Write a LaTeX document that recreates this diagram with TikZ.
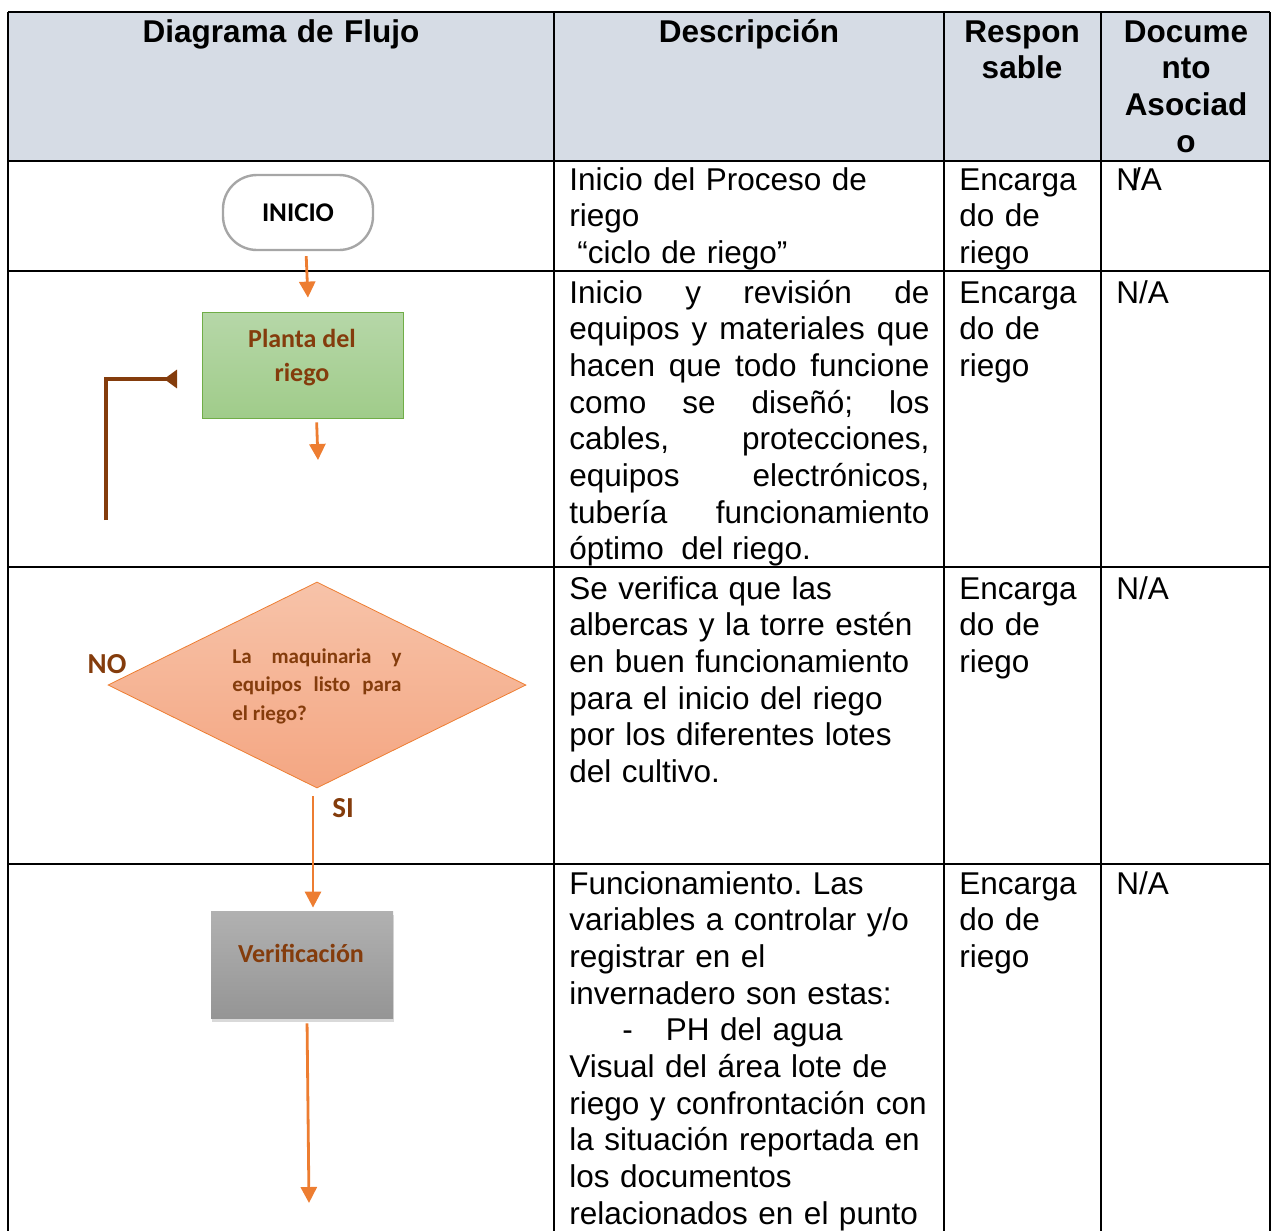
\documentclass[tikz,border=0pt]{standalone}
\usepackage{fontspec}
\setmainfont{Liberation Sans}
\newfontfamily\calibri{Carlito}
\usetikzlibrary{arrows.meta}
\usetikzlibrary{shapes.geometric}
\usetikzlibrary{shadows}
\frenchspacing
\definecolor{encabezado}{HTML}{D6DCE5}
\definecolor{cafe}{HTML}{843C0C}
\definecolor{naranja}{HTML}{ED7D31}
\definecolor{verde}{HTML}{70AD47}
\tikzset{celda/.style = {anchor = base west, inner sep = 0, text width = 180pt, font = \fontsize{15.75}{18.35}\selectfont, align = left}}
\tikzset{titulo/.style = {anchor = base, inner sep = 0, text width = 80pt, font = \fontsize{15.75}{18.35}\selectfont\bfseries, align = center}}
\tikzset{flecha/.style = {draw = naranja, line width = 1.4pt, -{Triangle[width = 8pt, length = 8pt]}}}
\tikzset{rotulo/.style = {inner sep = 0, text = cafe, font = \calibri\bfseries\fontsize{13}{17}\selectfont, align = center}}

\begin{document}
\begin{tikzpicture}[x = 0.5pt, y = -0.5pt]
  \useasboundingbox (0, 0) rectangle (1272, 1231);

  % tabla
  \fill [encabezado] (8, 12) rectangle (1270, 161);
  \foreach \y in {12, 161, 271, 567, 864}
    \draw [line width = 1.3pt] (8, \y) -- (1270, \y);
  \foreach \x in {8, 554, 944, 1101, 1270}
    \draw [line width = 1.3pt] (\x, 12) -- (\x, 1231);

  \node [titulo, text width = 200pt] (t1) at (281, 42) {Diagrama de Flujo};
  \node [titulo, text width = 180pt] (t2) at (749, 42) {Descripción};
  \node [titulo] (t3) at (1022, 42) {Respon\\sable};
  \node [titulo] (t4) at (1186, 42) {Docume\\nto\\Asociad\\o};

  \node [celda] (d1) at (569, 190) {Inicio del Proceso de\\riego\\\hspace*{4pt}“ciclo de riego”};
  \node [celda, text width = 70pt] (r1) at (959, 190) {Encarga\\do de\\riego};
  \node [celda, text width = 70pt] (a1) at (1116, 190) {N\kern-0.22em/A};

  \node [celda, align = justify] (d2) at (569, 303) {Inicio y revisión de\linebreak equipos y materiales que\linebreak hacen que todo funcione\linebreak como se diseñó; los\linebreak cables, protecciones,\linebreak equipos electrónicos,\linebreak tubería funcionamiento\linebreak óptimo\ \ del riego.};
  \node [celda, text width = 70pt] (r2) at (959, 303) {Encarga\\do de\\riego};
  \node [celda, text width = 70pt] (a2) at (1116, 303) {N/A};

  \node [celda] (d3) at (569, 599) {Se verifica que las\\albercas y la torre estén\\en buen funcionamiento\\para el inicio del riego\\por los diferentes lotes\\del cultivo.};
  \node [celda, text width = 70pt] (r3) at (959, 599) {Encarga\\do de\\riego};
  \node [celda, text width = 70pt] (a3) at (1116, 599) {N/A};

  \node [celda] (d4) at (569, 894) {Funcionamiento. Las\\variables a controlar y/o\\registrar en el\\invernadero son estas:\\\hspace*{26.5pt}-\hspace{16.5pt}PH del agua\\Visual del área lote de\\riego y confrontación con\\la situación reportada en\\los documentos\\relacionados en el punto};
  \node [celda, text width = 70pt] (r4) at (959, 894) {Encarga\\do de\\riego};
  \node [celda, text width = 70pt] (a4) at (1116, 894) {N/A};

  % diagrama
  \node (inicio) [draw = gray!70, line width = 1.2pt, rounded corners = 17pt, minimum width = 75pt, minimum height = 37.5pt, font = \calibri\bfseries\fontsize{13.5}{16}\selectfont] at (298, 212.5) {INICIO};

  \node (planta) [draw = verde, top color = {rgb,255:red,182;green,215;blue,168}, bottom color = {rgb,255:red,160;green,204;blue,138}, minimum width = 100.5pt, minimum height = 53pt] at (302.5, 365) {};
  \node [rotulo] (planta texto) at (302, 358) {Planta del\\riego};

  \node (decision) [diamond, draw = naranja, top color = {rgb,255:red,247;green,195;blue,169}, bottom color = {rgb,255:red,244;green,166;blue,130}, minimum width = 209pt, minimum height = 103pt, inner sep = 0] at (317, 685) {};
  \node [anchor = base west, text width = 84.5pt, align = justify, inner sep = 0, text = cafe, font = \calibri\bfseries\fontsize{10.5}{14.3}\selectfont] (pregunta) at (232, 663) {La maquinaria y\linebreak equipos listo para\linebreak el riego?};
  \node [rotulo, font = \calibri\bfseries\fontsize{14.5}{16}\selectfont] (no) at (107, 664) {NO};
  \node [rotulo, font = \calibri\bfseries\fontsize{14.5}{16}\selectfont] (si) at (343, 808) {SI};

  \node (verif) [top color = {rgb,255:red,177;green,177;blue,177}, bottom color = {rgb,255:red,149;green,149;blue,149}, minimum width = 91pt, minimum height = 53.5pt, drop shadow = {opacity = 0.3, shadow xshift = 0.5pt, shadow yshift = -2pt}] at (302, 964.5) {};
  \node [rotulo] (verif texto) at (301, 953) {Verificación};

  \draw [flecha, shorten <= 2.5pt, shorten >= 7pt] ([xshift = 4pt] inicio.south) -- ([xshift = 3pt] planta.north);
  \coordinate (salida) at (318, 460);
  \draw [flecha, shorten <= 2pt] ([xshift = 7pt] planta.south) -- (salida);

  \coordinate (regreso) at (106, 520);
  \coordinate (llegada) at (177, 379);
  \draw [draw = cafe, line width = 1.6pt, -{Triangle[reversed, width = 9pt, length = 6.5pt]}] (regreso) |- (llegada);

  \draw [flecha, shorten <= 4pt, shorten >= 1.5pt] ([xshift = -2pt] decision.south) -- ([xshift = 5.5pt] verif.north);
  \coordinate (final) at (309, 1203);
  \draw [flecha, shorten <= 2.5pt] ([xshift = 2.5pt] verif.south) -- (final);
\end{tikzpicture}
\end{document}
